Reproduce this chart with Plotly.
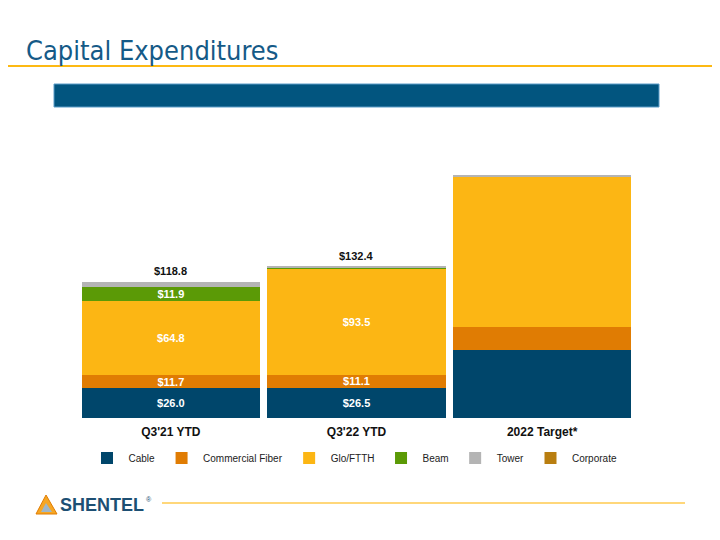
import plotly.graph_objects as go

categories = ["Q3'21 YTD", "Q3'22 YTD", "2022 Target*"]
cable = [26.0, 26.5, 60.0]
commercial_fiber = [11.7, 11.1, 19.5]
glo_ftth = [64.8, 93.5, 132.0]
beam = [11.9, 1.0, 0.0]
tower = [4.4, 0.3, 1.0]
corporate = [0.0, 0.0, 0.0]
totals = [118.8, 132.4, None]
show_labels = [True, True, False]

series = [
    ("Cable", cable, "#00466B"),
    ("Commercial Fiber", commercial_fiber, "#E07C03"),
    ("Glo/FTTH", glo_ftth, "#FCB614"),
    ("Beam", beam, "#5B9A06"),
    ("Tower", tower, "#B4B4B4"),
    ("Corporate", corporate, "#B97E10"),
]

# page offset (body margin) compensation
OFF = 8
W, H = 720 - OFF, 540 - OFF


def px(X):
    return (X - OFF) / W


def py(Y):
    return 1 - (Y - OFF) / H


fig = go.Figure()
for name, vals, color in series:
    texts = [f"${v:.1f}" if (s and v >= 10) else "" for v, s in zip(vals, show_labels)]
    fig.add_trace(go.Bar(
        name=name, x=categories, y=vals, marker=dict(color=color, line=dict(width=0)),
        text=texts, textposition="inside", insidetextanchor="middle", textangle=0,
        insidetextfont=dict(color="white", size=11, family="Liberation Sans", weight="bold"),
        hoverinfo="skip",
    ))

for cat, vals_t in zip(categories, totals):
    if vals_t is not None:
        fig.add_annotation(x=cat, y=vals_t, xref="x", yref="y", text=f"${vals_t:.1f}",
                           showarrow=False, yshift=11,
                           font=dict(family="Liberation Sans", size=11, color="#111111", weight="bold"))

fig.update_layout(
    width=W, height=H, margin=dict(l=0, r=0, t=0, b=0),
    paper_bgcolor="white", plot_bgcolor="white",
    barmode="stack", bargap=0.04,
    uniformtext=dict(minsize=11, mode="show"),
    xaxis=dict(domain=[px(78), px(635)], showline=False, showgrid=False, ticks="",
               ticklabelstandoff=5,
               tickfont=dict(family="Liberation Sans", size=12, color="#111111", weight="bold")),
    yaxis=dict(domain=[py(418), py(167)], range=[0, 220], visible=False),
    showlegend=True,
    legend=dict(orientation="h", x=px(354), xanchor="center", y=py(458), yanchor="middle",
                font=dict(family="Liberation Sans", size=10, color="#222222"),
                itemwidth=33, traceorder="normal"),
    font=dict(family="Liberation Sans"),
)

# Title and decorations
fig.add_annotation(x=px(24), y=py(50), xref="paper", yref="paper", xanchor="left", yanchor="middle",
                   text="Capital Expenditures", showarrow=False,
                   font=dict(family="DejaVu Sans Condensed", size=27, color="#155A87"))
fig.add_shape(type="line", xref="paper", yref="paper", x0=0, x1=1, y0=py(66), y1=py(66),
              line=dict(color="#FDB913", width=2))
fig.add_shape(type="rect", xref="paper", yref="paper", x0=px(54), x1=px(659), y0=py(107), y1=py(84),
              fillcolor="#02557F", line=dict(color="#5A9CC8", width=1))

# Footer logo and rule
fig.add_shape(type="path", xref="paper", yref="paper",
              path=f"M {px(36)} {py(514)} L {px(46)} {py(495)} L {px(57)} {py(514)} Z",
              fillcolor="#F6A623", line=dict(color="#E07C03", width=1))
fig.add_shape(type="path", xref="paper", yref="paper",
              path=f"M {px(41)} {py(512)} L {px(46)} {py(503)} L {px(52)} {py(512)} Z",
              fillcolor="#9FB6C8", line=dict(width=0))
fig.add_annotation(x=px(58), y=py(505), xref="paper", yref="paper", xanchor="left", yanchor="middle",
                   text="SHENTEL", showarrow=False,
                   font=dict(family="Liberation Sans", size=18, color="#1D4F73", weight="bold"))
fig.add_annotation(x=px(144), y=py(499), xref="paper", yref="paper", xanchor="left", yanchor="middle",
                   text="®", showarrow=False,
                   font=dict(family="Liberation Sans", size=7, color="#1D4F73"))
fig.add_shape(type="line", xref="paper", yref="paper", x0=px(162), x1=px(685), y0=py(503), y1=py(503),
              line=dict(color="#FFD77A", width=2))

fig.write_html("out.html")
